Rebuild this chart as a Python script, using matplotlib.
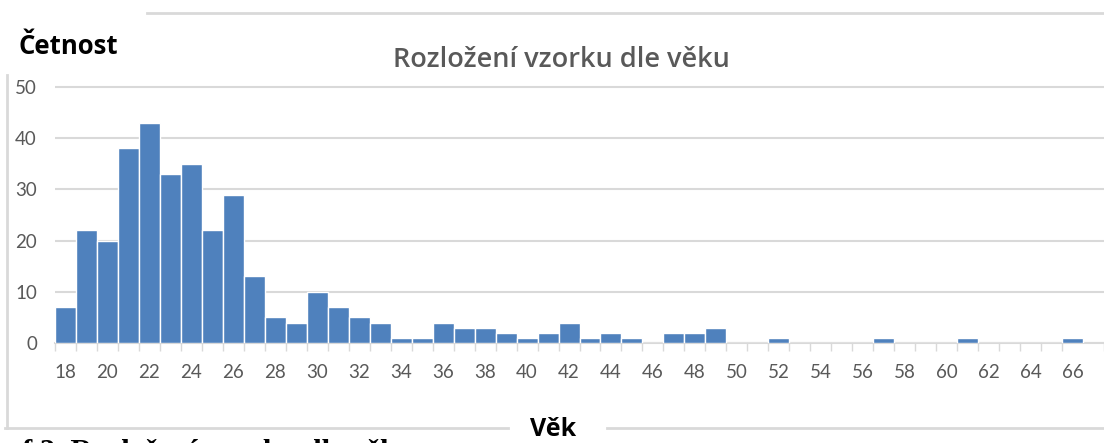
import matplotlib
matplotlib.use("Agg")
import matplotlib.pyplot as plt
from matplotlib.lines import Line2D
from matplotlib.ticker import FixedLocator

# vek respondentu a pocet v kazdem veku
vek = list(range(18, 67))
cetnost = [7, 22, 20, 38, 43, 33, 35, 22, 29, 13,
           5, 4, 10, 7, 5, 4, 1, 1, 4, 3,
           3, 2, 1, 2, 4, 1, 2, 1, 0, 2,
           2, 3, 0, 0, 1, 0, 0, 0, 0, 1,
           0, 0, 0, 1, 0, 0, 0, 0, 1]
popisky_x = list(range(18, 67, 2))
popisky_y = [0, 10, 20, 30, 40, 50]

W, H = 1104, 443
SEDA = "#595959"
CARY = "#D9D9D9"

plt.rcParams['font.family'] = ['Lato', 'DejaVu Sans']


def fx(px):
    return px / W


def fy(py):
    return 1 - py / H


fig = plt.figure(figsize=(W / 100, H / 100), dpi=100)
ymax = 52
vyska = (343 - 87) * ymax / 50
ax = fig.add_axes([fx(55), fy(343), fx(1104 - 55), vyska / H])

ax.bar(vek, cetnost, width=1, color="#4F81BD", edgecolor="white", linewidth=1, zorder=3)
ax.set_xlim(17.5, 67.5)
ax.set_ylim(0, ymax)

ax.yaxis.set_major_locator(FixedLocator(popisky_y))
ax.xaxis.set_major_locator(FixedLocator(popisky_x))
ax.xaxis.set_minor_locator(FixedLocator([v - 0.5 for v in vek] + [67.5]))
ax.grid(axis="y", color=CARY, linewidth=1.5, zorder=0)
for s in ["top", "right", "left"]:
    ax.spines[s].set_visible(False)
ax.spines["bottom"].set_color(CARY)
ax.spines["bottom"].set_linewidth(1.5)
ax.tick_params(axis="y", length=0, pad=13, labelsize=13.5, labelcolor=SEDA)
ax.tick_params(axis="x", which="major", length=0, pad=15, labelsize=13.5, labelcolor=SEDA)
ax.tick_params(axis="x", which="minor", length=5.5, width=1, color=CARY)

fig.text(fx(561), fy(60), "Rozložení vzorku dle věku", ha="center", va="center",
         fontsize=19.5, fontweight="semibold", color=SEDA, family=["Open Sans", "DejaVu Sans"])
fig.text(fx(18), fy(54), "Četnost", ha="left", va="baseline",
         fontsize=18.5, fontweight="bold", color="black", family=["Open Sans", "DejaVu Sans"])
fig.text(fx(553), fy(442.5), "Věk", ha="center", va="bottom",
         fontsize=18, fontweight="bold", color="black", family=["Open Sans", "DejaVu Sans"])
# popisek pod grafem je v predloze oriznuty spodnim okrajem
fig.text(fx(22), fy(461), "f 2. Rozložení vzorku dle věku", ha="left", va="baseline",
         fontsize=22, fontweight="bold", color="black", family="Liberation Serif")

# ramecek grafu
ramecek = [((147, 1104), (13, 13)),
           ((7, 7), (75, 428)),
           ((5, 508), (428, 428)),
           ((607, 1104), (428, 428))]
for xs, ys in ramecek:
    fig.add_artist(Line2D([fx(x) for x in xs], [fy(y) for y in ys],
                          color=CARY, linewidth=2, transform=fig.transFigure))

fig.savefig("out.png", dpi=100)
